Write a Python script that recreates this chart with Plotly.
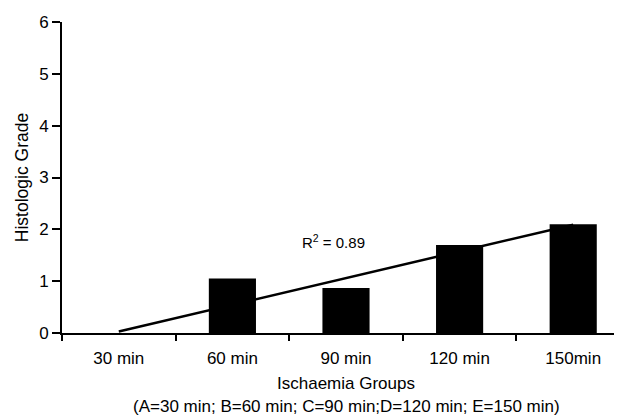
import plotly.graph_objects as go

categories = ["30 min", "60 min", "90 min", "120 min", "150min"]
grade = [0.0, 1.05, 0.87, 1.70, 2.10]
trend_x = ["30 min", "150min"]
trend_y = [0.03, 2.09]
r2_label = "R<sup>2</sup> = 0.89"
x_title = "Ischaemia Groups"
x_note = "(A=30 min; B=60 min; C=90 min;D=120 min; E=150 min)"
y_title = "Histologic Grade"

FONT = "Liberation Sans, Arial, sans-serif"

fig = go.Figure()
fig.add_trace(go.Scatter(x=trend_x, y=trend_y, mode="lines",
                         line=dict(color="black", width=2.5),
                         hoverinfo="skip", showlegend=False))
fig.add_trace(go.Bar(x=categories, y=grade, marker=dict(color="black", line=dict(width=0)),
                     showlegend=False))

fig.update_layout(
    width=622, height=417,
    margin=dict(l=54, r=0, t=14, b=92),
    paper_bgcolor="white", plot_bgcolor="white",
    bargap=0.585,
    font=dict(family=FONT, size=17, color="black"),
    xaxis=dict(
        type="category", categoryorder="array", categoryarray=categories,
        range=[-0.5, 4.5],
        showline=True, linecolor="black", linewidth=2,
        ticks="outside", tickson="boundaries", ticklen=6, tickwidth=2, tickcolor="black",
        showgrid=False, zeroline=False, ticklabelstandoff=9,
        tickfont=dict(size=17),
    ),
    yaxis=dict(
        range=[0, 6], dtick=1,
        showline=True, linecolor="black", linewidth=2,
        ticks="outside", ticklen=8, tickwidth=2, tickcolor="black",
        showgrid=False, zeroline=False,
        tickfont=dict(size=17),
        title=dict(text=y_title, font=dict(size=17.5), standoff=6),
    ),
    annotations=[
        dict(text=r2_label, x=1.89, y=1.76, xref="x", yref="y", showarrow=False,
             font=dict(size=15), xanchor="center", yanchor="middle"),
        dict(text=x_title, x=0.5, y=0, xref="paper", yref="paper", yshift=-50,
             showarrow=False, xanchor="center", yanchor="middle", font=dict(size=17)),
        dict(text=x_note, x=0.5, y=0, yshift=-73,
             xref="paper", yref="paper", showarrow=False, xanchor="center", yanchor="middle",
             font=dict(size=17)),
    ],
)

fig.write_html("out.html")
